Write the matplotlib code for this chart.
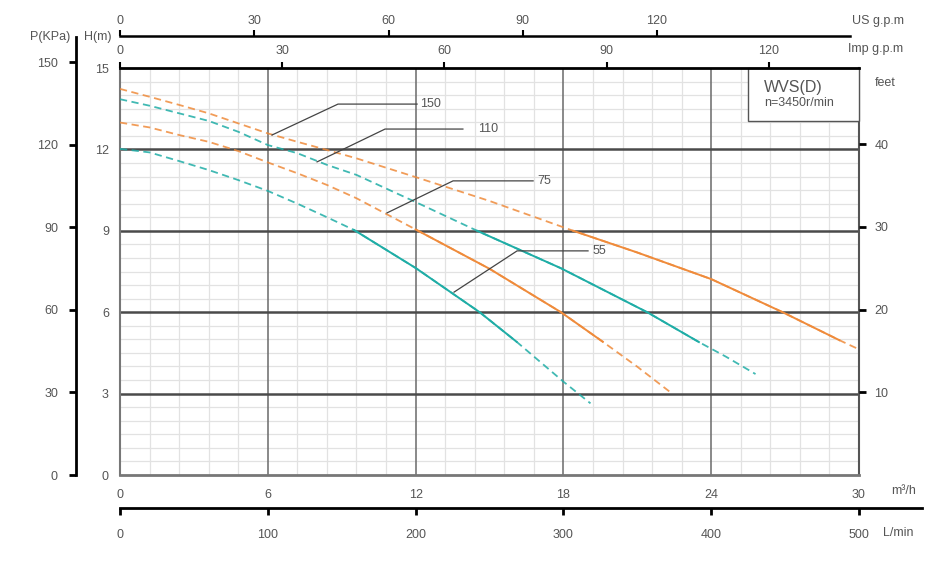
import numpy as np
import matplotlib
matplotlib.use("Agg")
import matplotlib.pyplot as plt
from matplotlib.ticker import MultipleLocator, FixedLocator
from matplotlib.patches import Rectangle

plt.rcParams['font.family'] = ['Liberation Sans', 'DejaVu Sans']

## pump curves (flow m3/h, head m), solid part given by index range
flow_150 = [0, 1.2, 2.4, 3.6, 4.8, 6, 7.2, 8.4, 9.6, 12, 15, 18.4, 21, 24, 26.9, 29.2, 30]
head_150 = [14.23, 13.94, 13.64, 13.33, 12.96, 12.59, 12.28, 11.98, 11.67, 10.98, 10.1,
            9.0, 8.2, 7.22, 6.0, 4.97, 4.63]
solid_150 = (11, 15)

flow_110 = [0, 1.2, 2.4, 3.6, 4.8, 6, 7.2, 8.4, 9.6, 12, 14.5, 17.9, 21.4, 23.5, 24.6, 25.8]
head_110 = [13.85, 13.61, 13.33, 13.05, 12.65, 12.16, 11.86, 11.43, 11.06, 10.06, 9.0,
            7.62, 6.0, 4.9, 4.36, 3.72]
solid_110 = (10, 13)

flow_75 = [0, 1.2, 2.4, 3.6, 4.8, 6, 7.2, 8.4, 9.6, 12, 15, 17.9, 19.6, 21.0, 22.4]
head_75 = [12.99, 12.81, 12.53, 12.28, 11.94, 11.52, 11.12, 10.69, 10.2, 9.05, 7.6,
           6.0, 4.91, 3.99, 3.01]
solid_75 = (9, 12)

flow_55 = [0, 1.2, 2.4, 3.6, 4.8, 6, 7.2, 8.4, 9.5, 12, 14.6, 16.1, 18, 19.1]
head_55 = [12.02, 11.89, 11.57, 11.24, 10.87, 10.47, 10.0, 9.5, 9.03, 7.63, 6.0,
           4.91, 3.44, 2.64]
solid_55 = (8, 11)

curve_names = ["150", "110", "75", "55"]

m3h_ticks = [0, 6, 12, 18, 24, 30]
head_ticks = [0, 3, 6, 9, 12, 15]
lmin_ticks = [0, 100, 200, 300, 400, 500]
kpa_ticks = [0, 30, 60, 90, 120, 150]
imp_ticks = [0, 30, 60, 90, 120]
us_ticks = [0, 30, 60, 90, 120]
feet_ticks = [10, 20, 30, 40]

ORANGE = '#EF8B3B'
TEAL = '#1FADA6'
GRAY_TXT = '#555555'
W, H = 943, 564


def fx(p):
    return p / W


def fy(p):
    return 1 - p / H


fig = plt.figure(figsize=(W / 100, H / 100), dpi=100)

## main chart
ax = fig.add_axes([fx(120), fy(475), fx(739), 407 / H])
ax.set_xlim(0, 30)
ax.set_ylim(0, 15)
ax.xaxis.set_major_locator(FixedLocator(m3h_ticks))
ax.yaxis.set_major_locator(FixedLocator(head_ticks))
ax.xaxis.set_minor_locator(MultipleLocator(1.2))
ax.yaxis.set_minor_locator(MultipleLocator(0.5))
ax.grid(which='minor', color='#e2e2e2', lw=0.9, zorder=0)
for v in m3h_ticks[1:-1]:
    ax.axvline(v, color='#6a6a6a', lw=1.1, zorder=1)
for v in head_ticks[1:-1]:
    ax.axhline(v, color='#4a4a4a', lw=1.8, zorder=1)
ax.tick_params(which='minor', length=0)
ax.tick_params(which='major', length=0, labelsize=9, labelcolor=GRAY_TXT)
ax.tick_params(axis='x', pad=10)
ax.tick_params(axis='y', pad=8)
ax.spines['left'].set_color('#777777')
ax.spines['left'].set_linewidth(1.5)
ax.spines['bottom'].set_color('#777777')
ax.spines['bottom'].set_linewidth(2)
ax.spines['right'].set_color('#555555')
ax.spines['right'].set_linewidth(1.5)
ax.spines['top'].set_visible(False)
ax.set_axisbelow(True)

curves = [(flow_150, head_150, solid_150, ORANGE),
          (flow_110, head_110, solid_110, TEAL),
          (flow_75, head_75, solid_75, ORANGE),
          (flow_55, head_55, solid_55, TEAL)]
for fl, hd, (i0, i1), col in curves:
    ax.plot(fl, hd, color=col, lw=1.3, ls=(0, (4, 2.5)), alpha=0.85, zorder=3)
    ax.plot(fl[i0:i1 + 1], hd[i0:i1 + 1], color=col, lw=1.4, zorder=4)

## leader lines with labels (start, elbow, end, text x)
leaders = [((6.17, 12.53), (8.85, 13.67), 12.06, 12.2),
           ((8.0, 11.54), (10.76, 12.75), 13.92, 14.53),
           ((10.84, 9.66), (13.52, 10.84), 16.77, 16.93),
           ((13.56, 6.74), (16.12, 8.26), 19.0, 19.2)]
for name, (p0, p1, xend, xt) in zip(curve_names, leaders):
    ax.plot([p0[0], p1[0], xend], [p0[1], p1[1], p1[1]], color='#444444', lw=0.9, zorder=5)
    ax.text(xt, p1[1], name, fontsize=9, color=GRAY_TXT, va='center', ha='left')

## model box
ax.add_patch(Rectangle((25.5, 13.05), 4.5, 1.95, facecolor='white', edgecolor='#555555',
                       lw=1, zorder=6, clip_on=False))
ax.text(26.15, 14.27, "WVS(D)", fontsize=11.5, color=GRAY_TXT, va='center', zorder=7)
ax.text(26.15, 13.7, "n=3450r/min", fontsize=9, color=GRAY_TXT, va='center', zorder=7)

## Imp g.p.m on top of main chart
ax_imp = ax.twiny()
ax_imp.set_xlim(0, 739 / 5.408)
ax_imp.xaxis.set_major_locator(FixedLocator(imp_ticks))
ax_imp.tick_params(axis='x', direction='out', length=4, width=1.5, color='black',
                   labelsize=9, labelcolor=GRAY_TXT, pad=4)
for s in ['left', 'right', 'bottom']:
    ax_imp.spines[s].set_visible(False)
ax_imp.spines['top'].set_color('black')
ax_imp.spines['top'].set_linewidth(2)

## feet on right
ax_ft = ax.twinx()
ax_ft.set_ylim(0, 15 * 3.2808)
ax_ft.yaxis.set_major_locator(FixedLocator(feet_ticks))
ax_ft.tick_params(axis='y', direction='out', length=5, width=2, color='black',
                  labelsize=9, labelcolor=GRAY_TXT, pad=6)
for s in ax_ft.spines.values():
    s.set_visible(False)

## P(KPa) axis on the left
ax_p = fig.add_axes([fx(76), fy(475), 0.0005, 438 / H])
ax_p.set_ylim(0, 438 / 2.753)
ax_p.yaxis.set_major_locator(FixedLocator(kpa_ticks))
ax_p.set_xticks([])
ax_p.patch.set_visible(False)
for s in ['right', 'top', 'bottom']:
    ax_p.spines[s].set_visible(False)
ax_p.spines['left'].set_color('black')
ax_p.spines['left'].set_linewidth(2)
ax_p.tick_params(axis='y', direction='out', length=5, width=2, color='black',
                 labelsize=9, labelcolor=GRAY_TXT, pad=8)

## US g.p.m axis
ax_us = fig.add_axes([fx(120), fy(36), fx(730), 0.0005])
ax_us.set_xlim(0, 730 / 4.475)
ax_us.xaxis.set_major_locator(FixedLocator(us_ticks))
ax_us.set_yticks([])
ax_us.patch.set_visible(False)
ax_us.xaxis.tick_top()
for s in ['right', 'left', 'bottom']:
    ax_us.spines[s].set_visible(False)
ax_us.spines['top'].set_color('black')
ax_us.spines['top'].set_linewidth(1.8)
ax_us.tick_params(axis='x', direction='out', length=4, width=1.5, color='black',
                  labelsize=9, labelcolor=GRAY_TXT, pad=2)

## L/min axis
ax_l = fig.add_axes([fx(120), fy(508), fx(802), 0.0005])
ax_l.set_xlim(0, 802 / 1.478)
ax_l.xaxis.set_major_locator(FixedLocator(lmin_ticks))
ax_l.set_yticks([])
ax_l.patch.set_visible(False)
for s in ['right', 'left', 'top']:
    ax_l.spines[s].set_visible(False)
ax_l.spines['bottom'].set_color('black')
ax_l.spines['bottom'].set_linewidth(2)
ax_l.tick_params(axis='x', direction='out', length=5, width=2, color='black',
                 labelsize=9, labelcolor=GRAY_TXT, pad=10)

## unit labels
units = [("P(KPa)", 50, 37), ("H(m)", 98, 37), ("US g.p.m", 878, 21),
         ("Imp g.p.m", 876, 49), ("feet", 885, 83), ("m\u00b3/h", 904, 491),
         ("L/min", 898, 533)]
for txt, x, y in units:
    fig.text(fx(x), fy(y), txt, fontsize=9, color=GRAY_TXT, ha='center', va='center')

fig.savefig("out.png", dpi=100, facecolor='white')
